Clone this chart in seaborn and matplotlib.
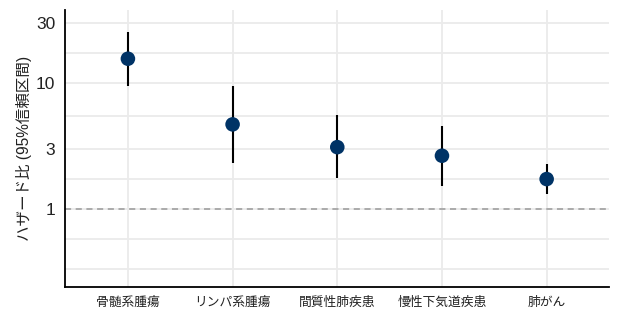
import matplotlib
matplotlib.use("Agg")
import matplotlib.pyplot as plt
import seaborn as sns
import pandas as pd
import numpy as np

categories = ["骨髄系腫瘍", "リンパ系腫瘍", "間質性肺疾患", "慢性下気道疾患", "肺がん"]
hr = [15.6, 4.7, 3.1, 2.65, 1.73]
ci_low = [9.5, 2.3, 1.75, 1.52, 1.32]
ci_high = [25.3, 9.5, 5.6, 4.6, 2.29]
y_ticks = [1, 3, 10, 30]
y_tick_labels = ["1", "3", "10", "30"]

df = pd.DataFrame({"cat": categories, "hr": hr, "lo": ci_low, "hi": ci_high})

sns.set_theme(style="white")
plt.rcParams['font.family'] = ['Noto Sans CJK JP', 'DejaVu Sans']

fig, ax = plt.subplots(figsize=(6.2, 3.23), dpi=100)
fig.subplots_adjust(left=0.105, right=0.983, top=0.969, bottom=0.111)

x = np.arange(len(categories))
ax.set_yscale("log")

# gridlines
grid_vals = [1/3, 1/np.sqrt(3), 1, np.sqrt(3), 3, np.sqrt(30), 10, np.sqrt(300), 30]
for g in grid_vals:
    ax.axhline(g, color="#ebebeb", lw=1.3, zorder=0)
for xi in x:
    ax.axvline(xi, color="#ebebeb", lw=1.3, zorder=0)

ax.axhline(1, color="#999999", lw=1.1, ls=(0, (4, 3)), zorder=1)

ax.vlines(x, df["lo"], df["hi"], color="black", lw=1.5, zorder=2)
sns.scatterplot(data=df, x=x, y="hr", ax=ax, color="#003366", s=110,
                edgecolor="none", zorder=3, legend=False)

ax.set_xlim(-0.6, 4.6)
ax.set_ylim(0.24, 38)
ax.set_yticks(y_ticks)
ax.set_yticklabels(y_tick_labels, family=['Liberation Sans', 'DejaVu Sans'])
ax.yaxis.set_minor_locator(matplotlib.ticker.NullLocator())
ax.set_xticks(x)
ax.set_xticklabels(categories, fontsize=9.2, color="#222222")
ax.tick_params(axis="y", labelsize=12.5, colors="#222222", length=0, pad=7)
ax.tick_params(axis="x", length=0, pad=6)
ax.set_xlabel("")
ax.set_ylabel("ハザード比 (95%信頼区間)", fontsize=11.2, color="#222222", labelpad=3,
              family=['Liberation Sans', 'Noto Sans CJK JP'])

for s in ["top", "right"]:
    ax.spines[s].set_visible(False)
for s in ["left", "bottom"]:
    ax.spines[s].set_color("black")
    ax.spines[s].set_linewidth(1.3)

fig.savefig("out.png", dpi=100)
